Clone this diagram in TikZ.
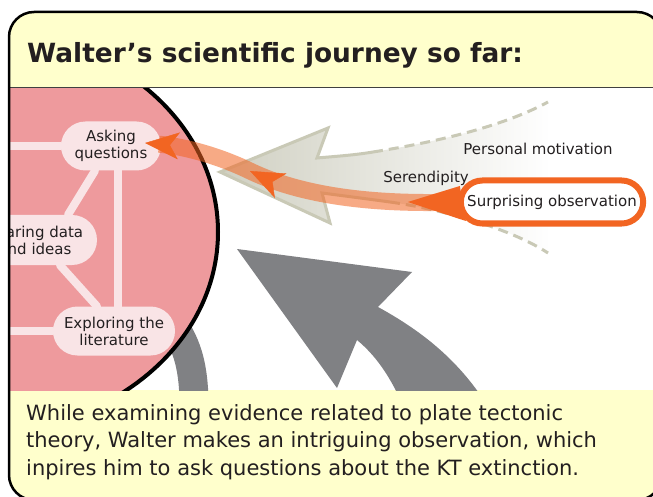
\documentclass[tikz,border=0pt]{standalone}
\usepackage{fontspec}
\setmainfont{DejaVu Sans}
\usetikzlibrary{shapes.misc, arrows.meta, decorations.markings, fadings}

\definecolor{notepad}{HTML}{FFFFCC}
\definecolor{bubble}{HTML}{EE9A9D}
\definecolor{pillpink}{HTML}{F9E4E6}
\definecolor{arrowgrey}{HTML}{808184}
\definecolor{sand}{HTML}{C9C9B6}
\definecolor{sandfill}{HTML}{D0D0C2}
\definecolor{tang}{HTML}{F26522}
\definecolor{ink}{HTML}{231F20}

\tikzset{
    pill/.style={rounded rectangle, fill=pillpink, text=ink, align=center, inner sep=0pt, font=\fontsize{15}{17}\selectfont},
    link/.style={draw=pillpink, line width=8pt, line cap=round},
    lbl/.style={text=ink, inner sep=0pt, anchor=base, font=\fontsize{15}{17}\selectfont},
    sandline/.style={draw=sand, line width=3pt},
    band/.style={draw=tang, line width=17pt, opacity=.55},
    tiphead/.style={postaction={decorate}, decoration={markings, mark=at position 1 with {\arrow[tang]{Stealth[length=34pt, width=27pt, inset=9pt]}}}}
}

\begin{document}
\begin{tikzpicture}[x=1pt, y=-1pt]
    \useasboundingbox (0,0) rectangle (653,497);
    \fill[notepad, rounded corners=25pt] (9,12) rectangle (662,500);

    \begin{scope}
        \clip (10,88) rectangle (653,390);
        \fill[white] (10,88) rectangle (653,390);

        % the pale arrow
        \fill[sandfill, path fading=east]
            (220,172) -- (328,128) -- (317,158)
            .. controls (340,156) and (355,155) .. (373,152)
            .. controls (430,143) and (500,128) .. (548,102)
            -- (548,253)
            .. controls (510,228) and (440,209) .. (390,202)
            .. controls (368,199) and (345,196) .. (322,193)
            -- (330,223) -- cycle;
        \draw[sandline] (373,152) .. controls (355,155) and (340,156) .. (317,158) -- (328,128) -- (220,172) -- (330,223) -- (322,193) .. controls (345,196) and (368,199) .. (390,202);
        \draw[sandline, dash pattern=on 10pt off 6pt] (373,152) .. controls (430,143) and (500,128) .. (548,102);
        \draw[sandline, dash pattern=on 10pt off 6pt] (390,202) .. controls (440,209) and (510,228) .. (548,253);

        % grey arrows
        \draw[arrowgrey, line width=29pt] (150,300) .. controls (185,330) and (193,360) .. (194,400);
        \fill[arrowgrey] (237,249) -- (412,272) -- (378,307) .. controls (420,330) and (460,360) .. (490,410)
            -- (405,410) .. controls (390,375) and (375,355) .. (357,340) -- (337,388) -- cycle;

        \draw[fill=bubble, line width=4pt] (-18,232) ellipse [x radius=236, y radius=200];

        \node[pill, minimum width=100pt, minimum height=49pt] (ask) at (111,146) {Asking\\questions};
        \node[pill, minimum width=124pt, minimum height=50pt] (share) at (35,240) {Sharing data\\and ideas};
        \node[pill, minimum width=122pt, minimum height=49pt] (explore) at (114,331) {Exploring the\\literature};

        \coordinate (rim) at (0,0);
        \draw[link] (ask.west) -- (ask.west -| rim);
        \draw[link] (explore.west) -- (explore.west -| rim);
        \draw[link] ([xshift=-16pt]ask.south) -- ([xshift=33pt]share.north);
        \draw[link] ([xshift=25pt]share.south) -- ([xshift=-17pt]explore.north);
        \draw[link] ([xshift=7pt]ask.south) -- ([xshift=7pt]ask.south |- explore.north);

        \node[lbl] (motive) at (538,155) {Personal motivation};
        \node[lbl] (luck) at (426,183) {Serendipity};

        \node[rounded rectangle, draw=tang, line width=6pt, fill=white, minimum width=189pt, minimum height=43pt,
            text=ink, font=\fontsize{15}{17}\selectfont] (obs) at (552,202) {Surprising observation};

        \coordinate (bend) at (250,171);
        \coordinate (qtip) at (145,143);
        \draw[band, shorten >=14pt] (obs.west) .. controls (370,205) and (300,195) .. (bend)
            .. controls (215,154) and (180,146) .. (qtip);
        \fill[tang] ([xshift=-50pt]obs.west) -- ([xshift=2pt,yshift=16pt]obs.west) -- ([xshift=8pt,yshift=-19pt]obs.west) -- cycle;
        \path[tiphead] (obs.west) .. controls (370,205) and (300,195) .. (bend);
        \path[tiphead] (bend) .. controls (215,154) and (180,146) .. (qtip);
    \end{scope}

    \draw[line width=1pt, black!75] (10,88) -- (653,88);
    \node[anchor=base west, inner sep=0pt, text=ink, font=\bfseries\fontsize{26.4}{30}\selectfont] (title) at (27,63) {Walter’s scientific journey so far:};

    \node[anchor=north west, inner sep=0pt, align=left, text=ink, font=\fontsize{21}{27.5}\selectfont] (story) at (26,404)
        {While examining evidence related to plate tectonic\\theory, Walter makes an intriguing observation, which\\inpires him to ask questions about the KT extinction.};

    \draw[line width=2.5pt, rounded corners=25pt] (9,12) rectangle (662,500);
\end{tikzpicture}
\end{document}
